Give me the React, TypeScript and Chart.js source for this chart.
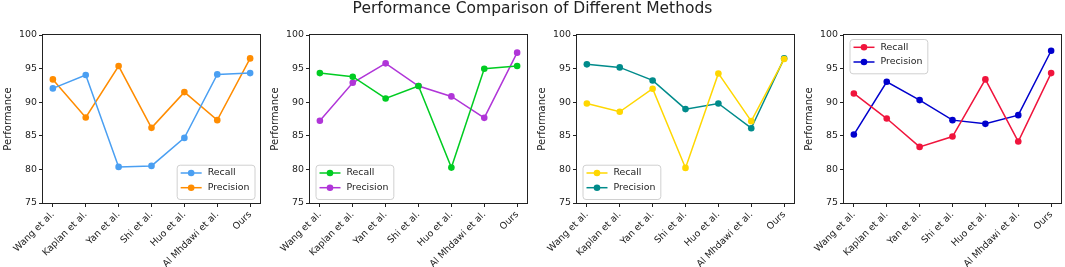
import React, { useEffect, useRef } from "react";
import { Chart, registerables } from "chart.js";

Chart.register(...registerables);

// ---------- data ----------
const methods = ["Wang et al.", "Kaplan et al.", "Yan et al.", "Shi et al.", "Huo et al.", "Al Mhdawi et al.", "Ours"];
const yTicks = [75, 80, 85, 90, 95, 100];

const recall1 = [92.05, 94.04, 80.37, 80.52, 84.69, 94.14, 94.33];
const precision1 = [93.39, 87.72, 95.38, 86.18, 91.5, 87.33, 96.52];

const recall2 = [94.33, 93.79, 90.56, 92.4, 80.27, 94.98, 95.38];
const precision2 = [87.23, 92.89, 95.78, 92.4, 90.86, 87.67, 97.37];

const recall3 = [89.81, 88.57, 92.0, 80.22, 94.28, 87.18, 96.42];
const precision3 = [95.63, 95.18, 93.24, 88.97, 89.81, 86.13, 96.52];

const recall4 = [91.3, 87.57, 83.35, 84.89, 93.39, 84.15, 94.33];
const precision4 = [85.19, 93.04, 90.31, 87.33, 86.78, 88.07, 97.66];

const seriesLabels = ["Recall", "Precision"];
const titleText = "Performance Comparison of Different Methods";
const yTitle = "Performance";

// ---------- styling ----------
const FONT = '"DejaVu Sans", sans-serif';
const TEXT = "#222222";
const W = 1065;
const H = 267;
const PANEL_STEP = 267;
const AXIS_W = 43;
const PLOT_W = 217;
const PLOT_TOP = 35;
const XAXIS_H = 64;

type LegendPos = "lower right" | "lower left" | "upper left";

const panels: {
  recall: number[];
  precision: number[];
  colors: [string, string];
  legend: LegendPos;
}[] = [
  { recall: recall1, precision: precision1, colors: ["#4a9ff2", "#ff8c00"], legend: "lower right" },
  { recall: recall2, precision: precision2, colors: ["#00cc22", "#b035d8"], legend: "lower left" },
  { recall: recall3, precision: precision3, colors: ["#ffd700", "#008b8b"], legend: "lower left" },
  { recall: recall4, precision: precision4, colors: ["#f0143c", "#0000cd"], legend: "upper left" },
];

const framePlugin = {
  id: "frame",
  afterDatasetsDraw(chart: any) {
    const { ctx, chartArea } = chart;
    const l = Math.round(chartArea.left);
    const t = Math.round(chartArea.top);
    const r = Math.round(chartArea.right);
    const b = Math.round(chartArea.bottom);
    ctx.save();
    ctx.strokeStyle = TEXT;
    ctx.lineWidth = 1;
    ctx.strokeRect(l - 0.5, t - 0.5, r - l + 1, b - t + 1);
    ctx.restore();
  },
};

const insetLegend = {
  id: "insetLegend",
  afterDraw(chart: any, _args: any, opts: any) {
    const { ctx, chartArea } = chart;
    const fontSize = 9.4;
    ctx.save();
    ctx.font = `${fontSize}px ${FONT}`;
    const ds = chart.data.datasets;
    const textW = Math.max(...ds.map((d: any) => ctx.measureText(d.label).width));
    const padL = 4, lineLen = 21, gap = 6, padR = 5;
    const w = padL + lineLen + gap + textW + padR;
    const h = 34.3;
    const rowH = 14.7;
    const padT = 8.3;
    const mx = 5.5, my = 4;
    const pos: LegendPos = opts.position;
    let x = chartArea.left + mx;
    let y = chartArea.bottom - my - h;
    if (pos === "lower right") x = chartArea.right - mx - w;
    if (pos === "upper left") y = chartArea.top + my;
    ctx.beginPath();
    (ctx as any).roundRect(x + 0.5, y + 0.5, w, h, 3);
    ctx.fillStyle = "rgba(255,255,255,0.85)";
    ctx.fill();
    ctx.strokeStyle = "#d0d0d0";
    ctx.lineWidth = 1;
    ctx.stroke();
    ds.forEach((d: any, i: number) => {
      const cy = y + padT + i * rowH;
      ctx.strokeStyle = d.borderColor;
      ctx.lineWidth = 1.5;
      ctx.beginPath();
      ctx.moveTo(x + padL, cy);
      ctx.lineTo(x + padL + lineLen, cy);
      ctx.stroke();
      ctx.fillStyle = d.borderColor;
      ctx.beginPath();
      ctx.arc(x + padL + lineLen / 2, cy, 3.3, 0, Math.PI * 2);
      ctx.fill();
      ctx.fillStyle = TEXT;
      ctx.textAlign = "left";
      ctx.textBaseline = "middle";
      ctx.fillText(d.label, x + padL + lineLen + gap, cy);
    });
    ctx.restore();
  },
};

function Panel({ index }: { index: number }) {
  const ref = useRef<HTMLCanvasElement>(null);
  const p = panels[index];
  const left = index * PANEL_STEP;
  const cw = Math.min(PANEL_STEP, W - left);
  const padRight = cw - AXIS_W - PLOT_W;

  useEffect(() => {
    const series = [p.recall, p.precision];
    const chart = new Chart(ref.current!, {
      type: "line",
      data: {
        datasets: series.map((s, k) => ({
          label: seriesLabels[k],
          data: s.map((v, i) => ({ x: i, y: v })),
          borderColor: p.colors[k],
          backgroundColor: p.colors[k],
          pointBackgroundColor: p.colors[k],
          pointBorderWidth: 0,
          pointRadius: 3.3,
          pointHoverRadius: 3.3,
          borderWidth: 1.5,
          tension: 0,
          fill: false,
        })),
      },
      options: {
        responsive: false,
        animation: false,
        events: [],
        layout: { padding: { top: PLOT_TOP, right: padRight, left: 0, bottom: 0 } },
        plugins: {
          legend: { display: false },
          tooltip: { enabled: false },
          title: { display: false },
          insetLegend: { position: p.legend },
        } as any,
        scales: {
          x: {
            type: "linear",
            min: -0.3,
            max: 6.3,
            afterBuildTicks: (s: any) => {
              s.ticks = methods.map((_, i) => ({ value: i }));
            },
            afterFit: (s: any) => {
              s.height = XAXIS_H;
            },
            ticks: {
              autoSkip: false,
              minRotation: 45,
              maxRotation: 45,
              padding: 2,
              color: TEXT,
              font: { family: FONT, size: 9.4 },
              callback: (v: any) => methods[Math.round(Number(v))],
            },
            grid: { drawOnChartArea: false, drawTicks: true, tickLength: 4, color: TEXT },
            border: { display: false },
          },
          y: {
            type: "linear",
            min: 75,
            max: 100,
            afterBuildTicks: (s: any) => {
              s.ticks = yTicks.map((v) => ({ value: v }));
            },
            afterFit: (s: any) => {
              s.width = AXIS_W;
            },
            ticks: {
              padding: 2,
              color: TEXT,
              font: { family: FONT, size: 9.4 },
              callback: (v: any) => String(v),
            },
            title: {
              display: true,
              text: yTitle,
              color: TEXT,
              font: { family: FONT, size: 10 },
              padding: { top: 2, bottom: 0 },
            },
            grid: { drawOnChartArea: false, drawTicks: true, tickLength: 4, color: TEXT },
            border: { display: false },
          },
        },
      },
      plugins: [framePlugin, insetLegend],
    } as any);
    return () => chart.destroy();
  }, []);

  return (
    <canvas
      ref={ref}
      width={cw}
      height={H}
      style={{ position: "absolute", left, top: 0, width: cw, height: H }}
    />
  );
}

export default function App() {
  return (
    <div
      style={{
        position: "absolute",
        left: 0,
        top: 0,
        width: W,
        height: H,
        overflow: "hidden",
        background: "#ffffff",
      }}
    >
      {panels.map((_, i) => (
        <Panel key={i} index={i} />
      ))}
      <div
        style={{
          position: "absolute",
          left: 0,
          top: 0,
          width: W,
          textAlign: "center",
          fontFamily: FONT,
          fontSize: 15.5,
          lineHeight: "17px",
          color: TEXT,
          whiteSpace: "nowrap",
        }}
      >
        {titleText}
      </div>
    </div>
  );
}
